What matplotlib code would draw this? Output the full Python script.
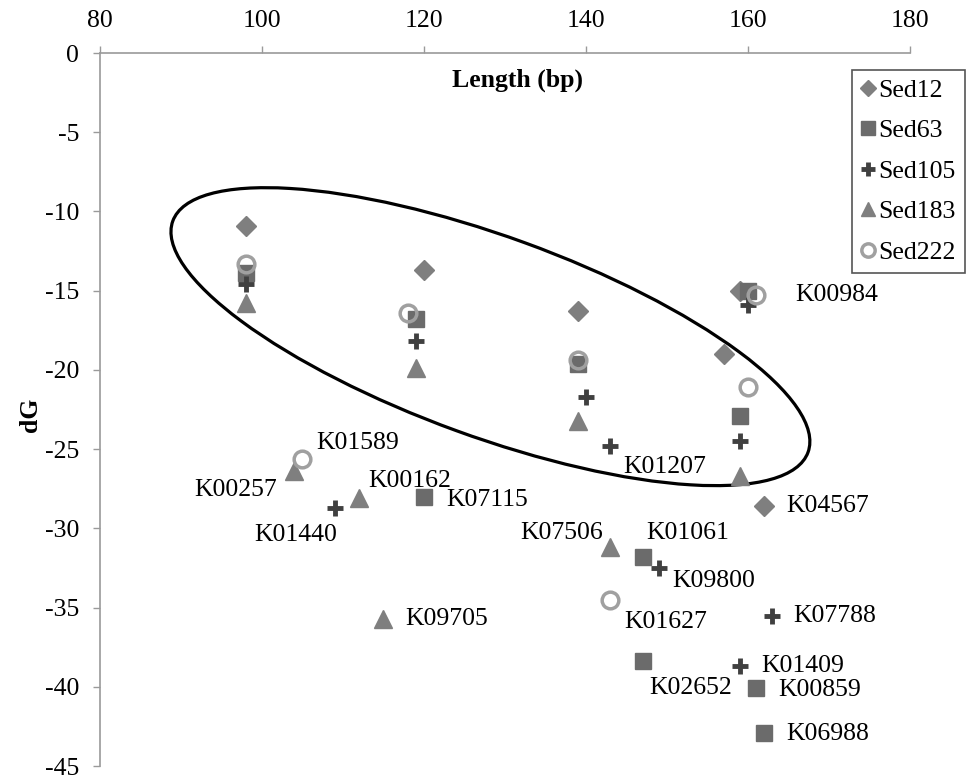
import matplotlib
matplotlib.use("Agg")
from matplotlib import pyplot as plt
from matplotlib.patches import Ellipse
import matplotlib.transforms as mtransforms

plt.rcParams["font.family"] = ["Liberation Serif", "DejaVu Serif"]
plt.rcParams["axes.unicode_minus"] = False

# series: length (bp) and dG
sed12_x = [98, 120, 139, 157, 159, 162]
sed12_y = [-10.9, -13.7, -16.3, -19.0, -15.0, -28.6]

sed63_x = [98, 119, 139, 159, 160, 120, 147, 147, 161, 162]
sed63_y = [-13.9, -16.8, -19.6, -22.9, -15.0, -28.0, -31.8, -38.4, -40.1, -42.9]

sed105_x = [98, 119, 140, 143, 159, 160, 109, 149, 163, 159]
sed105_y = [-14.6, -18.2, -21.7, -24.8, -24.5, -15.9, -28.7, -32.5, -35.5, -38.7]

sed183_x = [98, 119, 139, 159, 104, 112, 115, 143]
sed183_y = [-15.8, -19.9, -23.2, -26.7, -26.4, -28.1, -35.7, -31.2]

sed222_x = [98, 118, 139, 160, 161, 105, 143]
sed222_y = [-13.3, -16.4, -19.4, -21.1, -15.3, -25.6, -34.5]

# KEGG ortholog labels (text anchor positions in data units)
ko_names = ["K00984", "K01207", "K01589", "K00162", "K07115", "K09705",
            "K04567", "K01061", "K09800", "K01627", "K07788", "K01409",
            "K02652", "K00859", "K06988"]
ko_x = [165.8, 144.6, 106.7, 113.1, 122.7, 117.7,
        164.7, 147.5, 150.6, 144.7, 165.6, 161.7,
        147.8, 163.7, 164.7]
ko_y = [-15.3, -26.1, -24.6, -27.0, -28.2, -35.7,
        -28.6, -30.3, -33.3, -35.9, -35.5, -38.7,
        -40.1, -40.2, -43.0]
# labels that sit to the left of their point
ko_left_names = ["K00257", "K01440", "K07506"]
ko_left_x = [101.9, 109.3, 142.1]
ko_left_y = [-27.6, -30.4, -30.3]

x_ticks = [80, 100, 120, 140, 160, 180]
y_ticks = [0, -5, -10, -15, -20, -25, -30, -35, -40, -45]

AXIS_GREY = "#9a9a9a"
FS = 18.5


def main():
    fig = plt.figure(figsize=(9.69, 7.8), dpi=100)
    ax = fig.add_axes([0.1032, 0.0179, 0.8359, 0.9141])

    ax.plot(sed12_x, sed12_y, ls="none", marker="D", ms=10,
            color="#7f7f7f", label="Sed12")
    ax.plot(sed63_x, sed63_y, ls="none", marker="s", ms=12,
            color="#6b6b6b", label="Sed63")
    ax.plot(sed105_x, sed105_y, ls="none", marker="+", ms=12, mew=3.5,
            color="#404040", label="Sed105")
    ax.plot(sed183_x, sed183_y, ls="none", marker="^", ms=13,
            color="#7f7f7f", label="Sed183")
    ax.plot(sed222_x, sed222_y, ls="none", marker="o", ms=12, mew=2.5,
            mfc="none", mec="#a0a0a0", label="Sed222")

    for name, x, y in zip(ko_names, ko_x, ko_y):
        ax.text(x, y, name, fontsize=FS, ha="left", va="center")
    for name, x, y in zip(ko_left_names, ko_left_x, ko_left_y):
        ax.text(x, y, name, fontsize=FS, ha="right", va="center")

    # ellipse drawn in inches around a data-space centre
    ell_tr = fig.dpi_scale_trans + mtransforms.ScaledTranslation(
        128.2, -17.9, ax.transData)
    ax.add_patch(Ellipse((0, 0), 6.76, 2.0, angle=-20.0, fill=False,
                         lw=2.3, color="black", transform=ell_tr))

    ax.set_xlim(80, 180)
    ax.set_ylim(-45, 0)
    ax.xaxis.tick_top()
    ax.set_xticks(x_ticks)
    ax.set_yticks(y_ticks)
    ax.tick_params(axis="both", direction="out", length=5, width=1,
                   color=AXIS_GREY, labelsize=FS, pad=10)
    for side in ["right", "bottom"]:
        ax.spines[side].set_visible(False)
    for side in ["left", "top"]:
        ax.spines[side].set_color(AXIS_GREY)
        ax.spines[side].set_linewidth(1.2)

    ax.text(0.515, 0.962, "Length (bp)", transform=ax.transAxes,
            fontsize=FS, fontweight="bold", ha="center", va="center")
    fig.text(30 / 969, 1 - 415 / 780, "dG", rotation=90, fontsize=FS,
             fontweight="bold", ha="center", va="center")

    leg = ax.legend(loc="upper right", bbox_to_anchor=(965 / 969, 1 - 70 / 780),
                    bbox_transform=fig.transFigure, fontsize=FS,
                    frameon=True, fancybox=False, framealpha=1,
                    handlelength=0.6, handletextpad=0.1, labelspacing=0.68,
                    borderpad=0.35, borderaxespad=0, numpoints=1,
                    markerscale=0.8)
    leg.get_frame().set_edgecolor("#555555")
    leg.get_frame().set_linewidth(1.2)

    fig.savefig("out.png", dpi=100)


if __name__ == "__main__":
    main()
